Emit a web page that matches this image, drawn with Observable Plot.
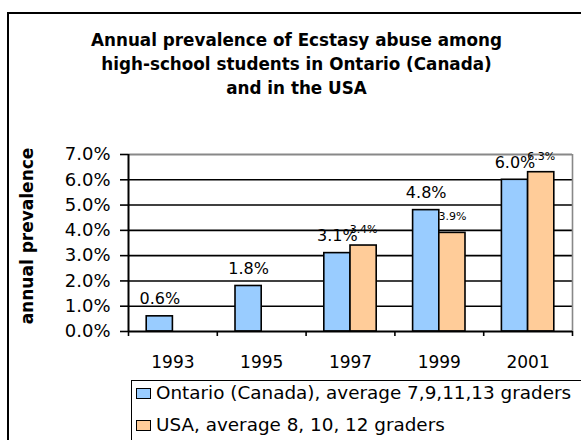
<!DOCTYPE html>
<html><head><meta charset="utf-8">
<script src="https://cdn.jsdelivr.net/npm/d3@7"></script>
<script src="https://cdn.jsdelivr.net/npm/@observablehq/plot@0.6"></script>
<style>
html,body{margin:0;padding:0;background:#fff;}
#wrap{position:relative;width:581px;height:440px;overflow:hidden;font-family:"DejaVu Sans",sans-serif;color:#000;background:#fff;}
#frame{position:absolute;left:7px;top:12px;width:620px;height:480px;border:2px solid #000;box-sizing:border-box;}
#title{position:absolute;left:8px;width:577px;top:28px;text-align:center;font-weight:bold;font-size:16.8px;line-height:24px;}
#ytitle{position:absolute;left:27px;top:236px;transform:translate(-50%,-50%) rotate(-90deg);font-weight:bold;font-size:17px;white-space:nowrap;line-height:20px;}
#chart{position:absolute;left:0;top:0;}
#legend{position:absolute;left:131px;top:380px;width:520px;height:100px;border:1.5px solid #000;background:#fff;}
.sw{position:absolute;left:4px;width:15px;height:11px;border:1.5px solid #000;box-sizing:border-box;}
.lt{position:absolute;left:24px;font-size:17px;line-height:20px;white-space:nowrap;transform:scaleX(1.08);transform-origin:0 0;}
</style></head>
<body>
<div id="wrap">
  <div id="frame"></div>
  <div id="title">Annual prevalence of Ecstasy abuse among<br>high-school students in Ontario (Canada)<br>and in the USA</div>
  <div id="chart"></div>
  <div id="ytitle"></div>
  <div id="legend"></div>
</div>
<script>
const years = [1993, 1995, 1997, 1999, 2001];
const ontario = [0.6, 1.8, 3.1, 4.8, 6.0];
const usa = [null, null, 3.4, 3.9, 6.3];
const seriesNames = ["Ontario (Canada), average 7,9,11,13 graders", "USA, average 8, 10, 12 graders"];
const seriesColors = ["#99CCFF", "#FFCC99"];
const yTicks = [0, 1, 2, 3, 4, 5, 6, 7];
const yLabels = ["0.0%", "1.0%", "2.0%", "3.0%", "4.0%", "5.0%", "6.0%", "7.0%"];
const categoryBounds = [1992, 1994, 1996, 1998, 2000, 2002];
const yTitle = "annual prevalence";

document.getElementById("ytitle").textContent = yTitle;

const barW = 0.59; // bar width in year units
const rows = [];
years.forEach((yr, i) => {
  rows.push({year: yr, s: 0, value: ontario[i]});
  if (usa[i] != null) rows.push({year: yr, s: 1, value: usa[i]});
});
const ont = rows.filter(d => d.s === 0);
const us = rows.filter(d => d.s === 1);
const fmt = v => v.toFixed(1) + "%";

const chart = Plot.plot({
  width: 581, height: 440,
  marginLeft: 128, marginRight: 9, marginTop: 154, marginBottom: 109,
  style: {fontFamily: "DejaVu Sans, sans-serif", color: "#000", background: "none"},
  x: {type: "linear", domain: [1992, 2002]},
  y: {domain: [0, 7]},
  marks: [
    Plot.ruleY(yTicks.filter(v => v > 0 && v < 7), {stroke: "#000", strokeWidth: 1.6}),
    Plot.ruleY([7], {stroke: "#888", strokeWidth: 2}),
    Plot.ruleX([2002], {stroke: "#888", strokeWidth: 1.6}),
    Plot.rectY(rows, {
      x1: d => d.s === 0 ? d.year - barW : d.year,
      x2: d => d.s === 0 ? d.year : d.year + barW,
      y: "value",
      fill: d => seriesColors[d.s],
      stroke: "#000", strokeWidth: 1.6
    }),
    Plot.ruleX([1992], {stroke: "#000", strokeWidth: 2}),
    Plot.ruleY([0], {stroke: "#000", strokeWidth: 2}),
    Plot.axisY({ticks: yTicks, tickFormat: d => yLabels[yTicks.indexOf(d)], tickSize: 8, tickPadding: 10, fontSize: 18, label: null, strokeWidth: 1.6}),
    Plot.axisX({ticks: categoryBounds, tickFormat: () => "", tickSize: 5, label: null, strokeWidth: 1.6}),
    Plot.axisX({ticks: years, tickFormat: d => String(d), tickSize: 0, tickPadding: 24, fontSize: 17, label: null}),
    Plot.text(ont, {x: d => d.year - barW / 2, y: "value", text: d => fmt(d.value), dy: -17, fontSize: 16}),
    Plot.text(us, {x: d => d.year + barW / 2, y: "value", text: d => fmt(d.value), dy: -16, fontSize: 11})
  ]
});
document.getElementById("chart").appendChild(chart);

const legend = document.getElementById("legend");
seriesNames.forEach((name, i) => {
  const sw = document.createElement("div");
  sw.className = "sw";
  sw.style.top = (6.5 + i * 32.5) + "px";
  sw.style.background = seriesColors[i];
  legend.appendChild(sw);
  const t = document.createElement("div");
  t.className = "lt";
  t.style.top = (2 + i * 32.4) + "px";
  t.textContent = name;
  legend.appendChild(t);
});
</script>
</body></html>
